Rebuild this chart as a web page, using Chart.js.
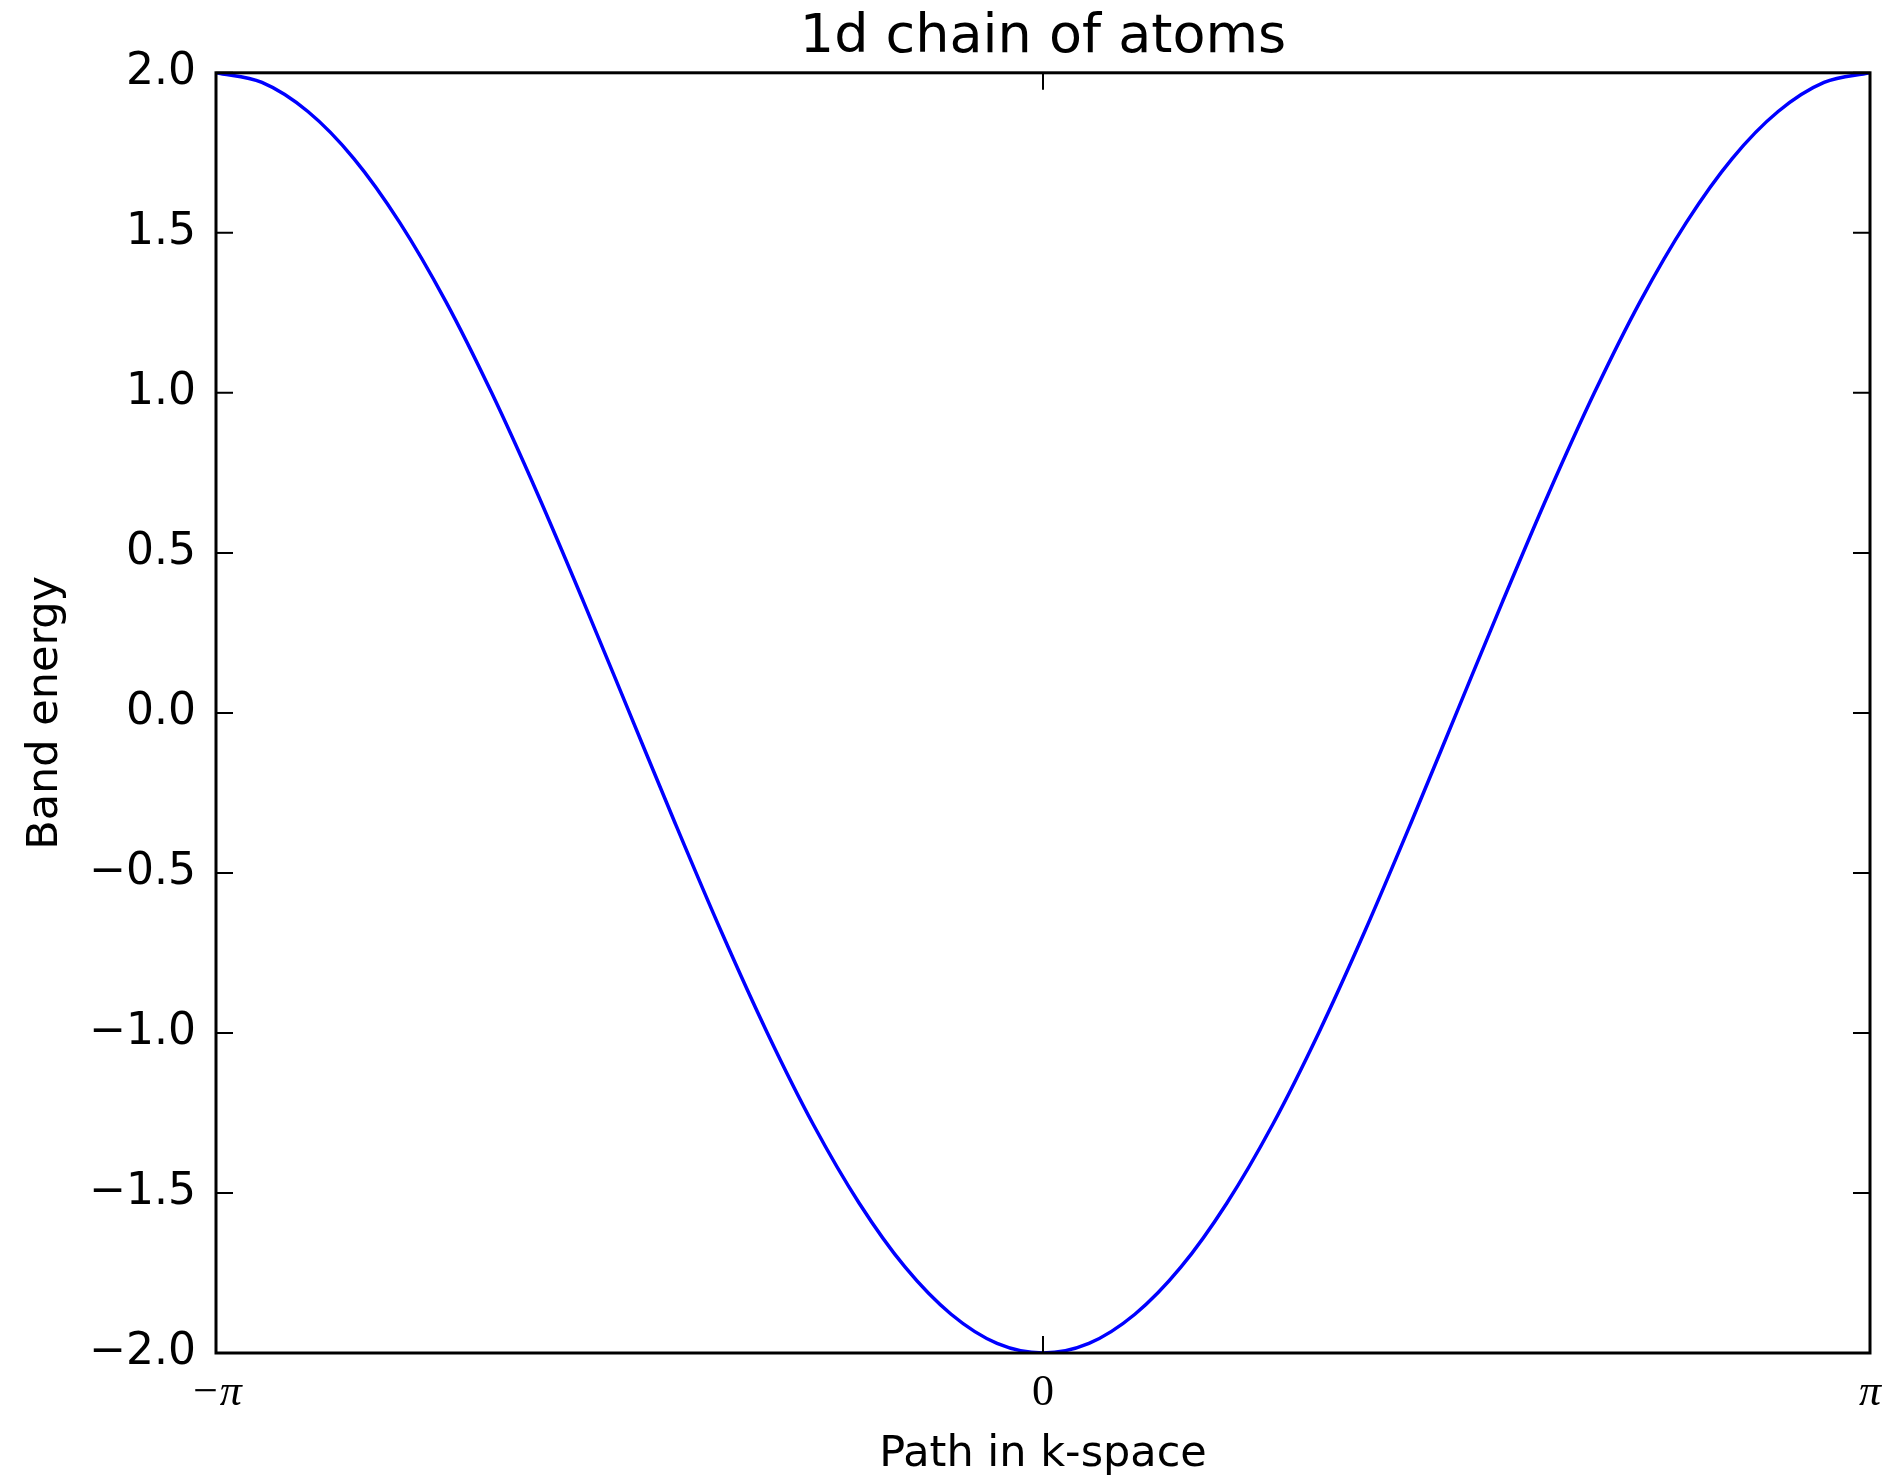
<!DOCTYPE html>
<html>
<head>
<meta charset="utf-8">
<title>1d chain of atoms</title>
<script src="https://cdn.jsdelivr.net/npm/chart.js@4.4.1/dist/chart.umd.min.js"></script>
<style>
  html, body { margin: 0; padding: 0; background: #fff; }
  #wrap { width: 1884px; height: 1482px; }
</style>
</head>
<body>
<div id="wrap"><canvas id="chartBand" width="1884" height="1482"></canvas></div>
<script>
// k em radianos (leitura do grafico, passo de 10 graus)
const kPoints = [
  -3.14159, -2.96706, -2.79253, -2.61799, -2.44346, -2.26893, -2.09440, -1.91986, -1.74533, -1.57080,
  -1.39626, -1.22173, -1.04720, -0.87266, -0.69813, -0.52360, -0.34907, -0.17453, 0,
  0.17453, 0.34907, 0.52360, 0.69813, 0.87266, 1.04720, 1.22173, 1.39626,
  1.57080, 1.74533, 1.91986, 2.09440, 2.26893, 2.44346, 2.61799, 2.79253, 2.96706, 3.14159
];
const bandEnergy = [
  2.000, 1.970, 1.879, 1.732, 1.532, 1.286, 1.000, 0.684, 0.347, 0.000,
  -0.347, -0.684, -1.000, -1.286, -1.532, -1.732, -1.879, -1.970, -2.000,
  -1.970, -1.879, -1.732, -1.532, -1.286, -1.000, -0.684, -0.347,
  0.000, 0.347, 0.684, 1.000, 1.286, 1.532, 1.732, 1.879, 1.970, 2.000
];
const xTickValues = [-Math.PI, 0, Math.PI];
const xTickLabels = ["\u2212\u03c0", "0", "\u03c0"];
const yTickValues = [-2.0, -1.5, -1.0, -0.5, 0.0, 0.5, 1.0, 1.5, 2.0];

const SANS = "'DejaVu Sans', sans-serif";
const SERIF = "'Liberation Serif', 'DejaVu Serif', serif";

function $(id){ return document.getElementById(id); }

function fmtTick(v){
  return v.toFixed(1).replace("-", "\u2212");
}

// moldura e ticks para dentro, estilo matplotlib classico
const frameTicks = {
  id: "frameTicks",
  afterDatasetsDraw(chart){
    const { ctx, chartArea: a, scales } = chart;
    const len = 17;
    ctx.save();
    ctx.strokeStyle = "#000";
    ctx.lineWidth = 2;
    ctx.beginPath();
    for (const t of scales.x.ticks){
      const px = scales.x.getPixelForValue(t.value);
      ctx.moveTo(px, a.bottom); ctx.lineTo(px, a.bottom - len);
      ctx.moveTo(px, a.top); ctx.lineTo(px, a.top + len);
    }
    for (const t of scales.y.ticks){
      const py = scales.y.getPixelForValue(t.value);
      ctx.moveTo(a.left, py); ctx.lineTo(a.left + len, py);
      ctx.moveTo(a.right, py); ctx.lineTo(a.right - len, py);
    }
    ctx.stroke();
    ctx.lineWidth = 3;
    ctx.strokeRect(a.left, a.top, a.right - a.left, a.bottom - a.top);
    ctx.restore();
  }
};

function main(){
  new Chart($("chartBand"), {
    type: "line",
    data: {
      datasets: [{
        data: kPoints.map((k, i) => ({ x: k, y: bandEnergy[i] })),
        borderColor: "#0000ff",
        borderWidth: 3.5,
        pointRadius: 0,
        cubicInterpolationMode: "monotone",
        fill: false
      }]
    },
    options: {
      responsive: false,
      animation: false,
      layout: { padding: { top: 0, right: 14, bottom: 0, left: 0 } },
      plugins: {
        legend: { display: false },
        tooltip: { enabled: false },
        title: {
          display: true,
          fullSize: false,
          text: "1d chain of atoms",
          color: "#000",
          font: { family: SANS, size: 54, weight: "normal", lineHeight: 1.2 },
          padding: { top: 6, bottom: 2 }
        }
      },
      scales: {
        x: {
          type: "linear",
          min: -Math.PI,
          max: Math.PI,
          afterBuildTicks(scale){
            scale.ticks = xTickValues.map(v => ({ value: v }));
          },
          afterFit(scale){
            scale.height = 129;
            scale.paddingLeft = 0;
            scale.paddingRight = 0;
          },
          grid: { display: false, drawTicks: false },
          border: { display: false },
          ticks: {
            color: "#000",
            padding: 14,
            maxRotation: 0,
            autoSkip: false,
            font: (c) => ({ family: SERIF, size: 44, style: c.index === 1 ? "normal" : "italic" }),
            callback: (v, i) => xTickLabels[i]
          },
          title: {
            display: true,
            text: "Path in k-space",
            color: "#000",
            font: { family: SANS, size: 43, lineHeight: 1.2 },
            padding: { top: 0, bottom: 1 }
          }
        },
        y: {
          min: -2,
          max: 2,
          afterBuildTicks(scale){
            scale.ticks = yTickValues.map(v => ({ value: v }));
          },
          afterFit(scale){ scale.width = 216; },
          grid: { display: false, drawTicks: false },
          border: { display: false },
          ticks: {
            color: "#000",
            padding: 20,
            autoSkip: false,
            font: { family: SANS, size: 44 },
            callback: (v) => fmtTick(v)
          },
          title: {
            display: true,
            text: "Band energy",
            color: "#000",
            font: { family: SANS, size: 43, lineHeight: 1.2 },
            padding: { top: 20, bottom: 0 }
          }
        }
      }
    },
    plugins: [frameTicks]
  });
}

document.addEventListener("DOMContentLoaded", main);
</script>
</body>
</html>
